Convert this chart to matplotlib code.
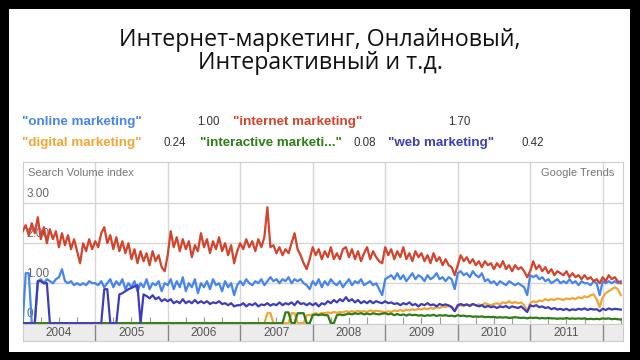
import numpy as np
import matplotlib
matplotlib.use("Agg")
import matplotlib.pyplot as plt
from matplotlib.patches import Rectangle

# semimonthly readings (24 per year), 2004 .. early 2012
START_YEAR = 2004
years = [2004, 2005, 2006, 2007, 2008, 2009, 2010, 2011]

# "internet marketing"
red_2004 = [2.3, 2.45, 2.2, 2.5, 2.25, 2.65, 2.1, 2.4, 2.0, 2.35, 2.1, 2.3,
            1.9, 2.25, 1.95, 2.2, 1.85, 2.1, 1.8, 1.5, 2.0, 1.8, 2.1, 1.85]
red_2005 = [2.05, 1.9, 2.25, 2.4, 2.0, 2.2, 1.85, 2.15, 1.8, 2.05, 1.75, 2.0,
            1.6, 1.85, 1.5, 1.8, 1.55, 1.75, 1.45, 1.8, 1.55, 1.7, 1.4, 1.3]
red_2006 = [1.7, 2.3, 1.9, 2.15, 1.8, 2.1, 1.85, 2.05, 1.65, 1.95, 1.8, 2.25,
            1.9, 2.1, 1.75, 2.05, 1.85, 2.15, 1.8, 2.0, 1.7, 1.95, 1.5, 1.8]
red_2007 = [2.0, 1.85, 2.1, 1.9, 2.05, 1.8, 2.1, 1.9, 2.15, 2.9, 1.9, 1.95,
            1.75, 1.9, 1.7, 1.85, 1.75, 2.0, 2.25, 1.85, 1.7, 1.5, 1.35, 1.6]
red_2008 = [1.9, 1.7, 1.85, 1.6, 1.8, 1.65, 1.9, 1.6, 1.75, 1.6, 1.85, 1.9,
            1.65, 1.85, 1.6, 1.8, 1.55, 1.75, 1.9, 1.6, 1.8, 1.65, 1.55, 1.5]
red_2009 = [1.9, 1.7, 1.85, 1.6, 1.8, 1.65, 1.9, 1.6, 1.75, 1.55, 1.8, 1.65,
            1.75, 1.55, 1.7, 1.5, 1.75, 1.55, 1.65, 1.45, 1.6, 1.45, 1.4, 1.2]
red_2010 = [1.45, 1.7, 1.55, 1.65, 1.5, 1.6, 1.45, 1.55, 1.4, 1.55, 1.45, 1.5,
            1.35, 1.5, 1.4, 1.55, 1.35, 1.45, 1.3, 1.45, 1.35, 1.4, 1.3, 1.15]
red_2011 = [1.3, 1.55, 1.35, 1.45, 1.3, 1.4, 1.25, 1.35, 1.2, 1.3, 1.25, 1.2,
            1.3, 1.15, 1.25, 1.15, 1.2, 1.1, 1.2, 1.1, 1.15, 1.05, 1.1, 1.0]
red_2012 = [1.15, 1.05, 1.2, 1.1, 1.15, 1.05, 1.0]

# "online marketing"
blue_2004 = [0.0, 1.25, 1.25, 0.0, 0.0, 1.05, 1.1, 1.0, 1.1, 1.05, 1.0, 1.1,
             1.15, 1.35, 1.05, 1.0, 1.05, 0.95, 1.0, 0.95, 1.0, 0.95, 1.05, 1.0]
blue_2005 = [1.0, 0.95, 1.05, 0.9, 1.0, 1.1, 0.9, 1.05, 0.95, 1.1, 0.85, 1.0,
             0.9, 1.05, 0.8, 1.0, 0.9, 1.1, 0.85, 1.0, 0.95, 1.05, 0.8, 1.0]
blue_2006 = [0.95, 1.1, 0.85, 1.05, 0.9, 1.15, 0.8, 1.0, 0.9, 1.1, 0.75, 1.0,
             0.9, 1.05, 0.85, 1.1, 0.95, 1.0, 0.8, 1.05, 0.9, 1.0, 0.7, 0.95]
blue_2007 = [1.05, 0.95, 1.1, 1.0, 0.95, 1.05, 1.0, 1.1, 0.95, 1.05, 1.15, 1.05,
             1.1, 1.0, 1.1, 1.05, 1.15, 1.0, 1.1, 1.05, 1.1, 1.0, 0.95, 0.85]
blue_2008 = [1.05, 0.95, 1.1, 0.9, 1.05, 0.95, 1.1, 1.0, 0.95, 1.05, 0.9, 1.0,
             1.1, 0.95, 1.05, 1.0, 1.1, 0.95, 1.0, 1.05, 0.95, 1.0, 0.85, 0.7]
blue_2009 = [1.1, 1.15, 1.2, 1.1, 1.25, 1.1, 1.2, 1.05, 1.15, 1.25, 1.1, 1.2,
             1.15, 1.05, 1.2, 1.1, 1.15, 1.25, 1.1, 1.15, 1.05, 1.15, 1.1, 0.85]
blue_2010 = [1.25, 1.3, 1.2, 1.25, 1.15, 1.3, 1.2, 1.15, 1.25, 1.05, 1.1, 1.0,
             1.05, 0.95, 1.05, 1.0, 0.95, 1.05, 1.0, 0.95, 1.0, 0.95, 0.9, 0.7]
blue_2011 = [1.2, 1.15, 1.2, 1.1, 1.15, 1.05, 1.1, 1.0, 1.05, 1.1, 1.0, 1.05,
             1.0, 1.1, 1.0, 1.05, 0.95, 1.05, 1.0, 1.0, 0.95, 1.05, 1.0, 0.7]
blue_2012 = [1.05, 1.0, 1.05, 1.0, 1.05, 1.0, 1.05]

# "digital marketing"
orange_2004 = [0.0] * 24
orange_2005 = [0.0] * 24
orange_2006 = [0.0] * 24
orange_2007 = [0.0, 0.0, 0.0, 0.0, 0.0, 0.0, 0.0, 0.0, 0.0, 0.25, 0.25, 0.0,
               0.0, 0.0, 0.0, 0.0, 0.0, 0.25, 0.25, 0.0, 0.0, 0.0, 0.2, 0.2]
orange_2008 = [0.22, 0.25, 0.22, 0.26, 0.25, 0.27, 0.25, 0.28, 0.26, 0.28, 0.27, 0.3,
               0.28, 0.3, 0.28, 0.31, 0.29, 0.3, 0.28, 0.32, 0.3, 0.31, 0.3, 0.29]
orange_2009 = [0.27, 0.3, 0.28, 0.32, 0.3, 0.33, 0.3, 0.34, 0.32, 0.35, 0.33, 0.36,
               0.34, 0.37, 0.35, 0.38, 0.36, 0.4, 0.38, 0.42, 0.4, 0.45, 0.42, 0.3]
orange_2010 = [0.42, 0.45, 0.43, 0.47, 0.45, 0.48, 0.44, 0.47, 0.45, 0.5, 0.47, 0.45,
               0.48, 0.5, 0.47, 0.52, 0.5, 0.55, 0.5, 0.53, 0.5, 0.52, 0.45, 0.3]
orange_2011 = [0.5, 0.55, 0.52, 0.57, 0.55, 0.6, 0.57, 0.6, 0.58, 0.62, 0.6, 0.58,
               0.62, 0.6, 0.63, 0.6, 0.65, 0.62, 0.67, 0.65, 0.7, 0.72, 0.6, 0.4]
orange_2012 = [0.65, 0.75, 0.8, 0.85, 0.9, 0.85, 0.7]

# "interactive marketing"
green_2004 = [0.0] * 24
green_2005 = [0.0] * 24
green_2006 = [0.0] * 24
green_2007 = [0.0, 0.0, 0.0, 0.0, 0.0, 0.0, 0.0, 0.0, 0.0, 0.0, 0.0, 0.0,
              0.0, 0.0, 0.0, 0.27, 0.27, 0.0, 0.0, 0.25, 0.25, 0.25, 0.0, 0.0]
green_2008 = [0.2, 0.22, 0.2, 0.22, 0.2, 0.2, 0.0, 0.0, 0.2, 0.22, 0.2, 0.22,
              0.24, 0.22, 0.25, 0.23, 0.25, 0.22, 0.24, 0.22, 0.25, 0.23, 0.22, 0.24]
green_2009 = [0.25, 0.22, 0.24, 0.2, 0.23, 0.2, 0.22, 0.19, 0.22, 0.2, 0.21, 0.19,
              0.2, 0.18, 0.2, 0.19, 0.21, 0.18, 0.2, 0.19, 0.2, 0.18, 0.19, 0.17]
green_2010 = [0.2, 0.18, 0.19, 0.17, 0.18, 0.16, 0.17, 0.16, 0.17, 0.15, 0.16, 0.15,
              0.16, 0.14, 0.15, 0.14, 0.15, 0.13, 0.14, 0.15, 0.14, 0.13, 0.14, 0.12]
green_2011 = [0.14, 0.13, 0.14, 0.12, 0.13, 0.12, 0.13, 0.12, 0.12, 0.11, 0.12, 0.11,
              0.13, 0.11, 0.12, 0.11, 0.12, 0.11, 0.12, 0.1, 0.11, 0.1, 0.11, 0.1]
green_2012 = [0.12, 0.11, 0.12, 0.1, 0.11, 0.1, 0.09]

# "web marketing"
navy_2004 = [0.0, 0.0, 0.0, 0.0, 0.0, 1.05, 1.05, 1.0, 1.0, 0.0, 0.0, 0.0,
             0.0, 0.0, 0.0, 0.0, 0.0, 0.0, 0.0, 0.0, 0.0, 0.0, 0.0, 0.0]
navy_2005 = [0.0, 0.0, 0.0, 0.85, 0.85, 0.0, 0.0, 0.0, 0.72, 0.75, 0.8, 0.85,
             0.88, 0.92, 0.95, 0.0, 0.72, 0.68, 0.62, 0.7, 0.6, 0.65, 0.55, 0.6]
navy_2006 = [0.55, 0.6, 0.5, 0.55, 0.5, 0.6, 0.5, 0.55, 0.5, 0.58, 0.5, 0.55,
             0.5, 0.55, 0.48, 0.52, 0.5, 0.55, 0.48, 0.5, 0.45, 0.5, 0.42, 0.45]
navy_2007 = [0.45, 0.5, 0.42, 0.48, 0.45, 0.5, 0.42, 0.47, 0.45, 0.5, 0.44, 0.48,
             0.45, 0.52, 0.45, 0.5, 0.47, 0.52, 0.45, 0.55, 0.48, 0.5, 0.45, 0.5]
navy_2008 = [0.45, 0.5, 0.42, 0.5, 0.47, 0.55, 0.5, 0.58, 0.52, 0.6, 0.55, 0.65,
             0.55, 0.6, 0.52, 0.58, 0.5, 0.55, 0.5, 0.56, 0.5, 0.55, 0.52, 0.5]
navy_2009 = [0.55, 0.5, 0.52, 0.48, 0.5, 0.45, 0.5, 0.47, 0.52, 0.45, 0.48, 0.42,
             0.48, 0.45, 0.5, 0.45, 0.47, 0.42, 0.48, 0.45, 0.47, 0.44, 0.4, 0.3]
navy_2010 = [0.45, 0.48, 0.45, 0.47, 0.43, 0.48, 0.45, 0.42, 0.45, 0.4, 0.43, 0.4,
             0.42, 0.38, 0.42, 0.4, 0.43, 0.38, 0.42, 0.4, 0.38, 0.42, 0.35, 0.28]
navy_2011 = [0.45, 0.42, 0.45, 0.4, 0.42, 0.38, 0.4, 0.35, 0.38, 0.34, 0.36, 0.33,
             0.36, 0.32, 0.35, 0.33, 0.36, 0.34, 0.37, 0.33, 0.36, 0.34, 0.35, 0.3]
navy_2012 = [0.36, 0.33, 0.37, 0.34, 0.36, 0.35, 0.34]

online = blue_2004 + blue_2005 + blue_2006 + blue_2007 + blue_2008 + blue_2009 + blue_2010 + blue_2011 + blue_2012
internet = red_2004 + red_2005 + red_2006 + red_2007 + red_2008 + red_2009 + red_2010 + red_2011 + red_2012
digital = orange_2004 + orange_2005 + orange_2006 + orange_2007 + orange_2008 + orange_2009 + orange_2010 + orange_2011 + orange_2012
interactive = green_2004 + green_2005 + green_2006 + green_2007 + green_2008 + green_2009 + green_2010 + green_2011 + green_2012
web = navy_2004 + navy_2005 + navy_2006 + navy_2007 + navy_2008 + navy_2009 + navy_2010 + navy_2011 + navy_2012

labels = ['"online marketing"', '"internet marketing"', '"digital marketing"',
          '"interactive marketi..."', '"web marketing"']
averages = ["1.00", "1.70", "0.24", "0.08", "0.42"]
colors = ["#4684ee", "#d4432b", "#f2a535", "#2e7d16", "#3d3dbb"]
y_ticks = [0, 1, 2, 3]
y_tick_labels = ["0", "1.00", "2.00", "3.00"]

title_lines = ["Интернет-маркетинг, Онлайновый,", "Интерактивный и т.д."]

fig = plt.figure(figsize=(6.4, 3.6), dpi=100, facecolor="black")
# white slide area
fig.patches.append(Rectangle((9 / 640, 8 / 360), 621 / 640, 343 / 360,
                             transform=fig.transFigure, facecolor="white",
                             edgecolor="none", zorder=-5))

for line, ty in zip(title_lines, [40, 63]):
    fig.text(0.5, 1 - ty / 360, line, ha="center", va="center", fontsize=16.7,
             family=["Open Sans", "DejaVu Sans"], color="#111111")

# legend rows
leg_font = ["Liberation Sans", "DejaVu Sans"]
leg_pos = [(22, 122, 197, 122), (233, 122, 448, 122), (22, 143, 163, 143),
           (200, 143, 353, 143), (388, 143, 522, 143)]
for lab, avg, col, (lx, ly, nx, ny) in zip(labels, averages, colors, leg_pos):
    fig.text(lx / 640, 1 - ly / 360, lab, color=col, fontsize=9.6, fontweight="bold",
             family=leg_font, va="center")
    fig.text(nx / 640, 1 - ny / 360, avg, color="#333333", fontsize=8.3,
             family=leg_font, va="center")

left = 22.7 / 640
width = (623 - 22.7) / 640
ax = fig.add_axes([left, 1 - 324 / 360, width, 162 / 360])
ax.set_facecolor("white")

series = [online, internet, digital, interactive, web]
for vals, col in zip(series, colors):
    x = START_YEAR + np.arange(len(vals)) / 24
    ax.plot(x, vals, color=col, lw=1.6, zorder=3)

ax.set_xlim(2004, 2012.28)
ax.set_ylim(-0.02, 4.03)
ax.set_xticks(years[1:] + [2012])
ax.set_xticks(np.arange(2004.25, 2012.28, 0.25), minor=True)
ax.set_yticks(y_ticks[1:])
ax.grid(True, which="major", color="#d6d6d6", lw=1)
ax.tick_params(which="major", length=0, labelbottom=False, labelleft=False)
ax.tick_params(which="minor", direction="in", length=5, color="#999999", width=0.8)
for s in ax.spines.values():
    s.set_color("#cccccc")

for v, t in zip(y_ticks, y_tick_labels):
    ax.text(2004.05, v + 0.08, t, fontsize=8.5, color="#666666", family=leg_font,
            va="bottom", zorder=1)
ax.text(0.008, 0.96, "Search Volume index", transform=ax.transAxes, fontsize=8,
        color="#777777", family=leg_font, va="top")
ax.text(0.985, 0.96, "Google Trends", transform=ax.transAxes, fontsize=8,
        color="#777777", family=leg_font, va="top", ha="right")

# year band under the chart
band = fig.add_axes([left, 1 - 341 / 360, width, 17 / 360])
band.set_facecolor("#ececec")
band.set_xlim(2004, 2012.28)
band.set_ylim(0, 1)
for yr in years[1:] + [2012]:
    band.axvline(yr, color="#888888", lw=1)
for yr in years:
    band.text(yr + 0.5, 0.5, str(yr), ha="center", va="center", fontsize=8.5,
              color="#555555", family=leg_font)
band.set_xticks([])
band.set_yticks([])
for s in band.spines.values():
    s.set_color("#cccccc")

plt.savefig("out.png", dpi=100, facecolor="black")
